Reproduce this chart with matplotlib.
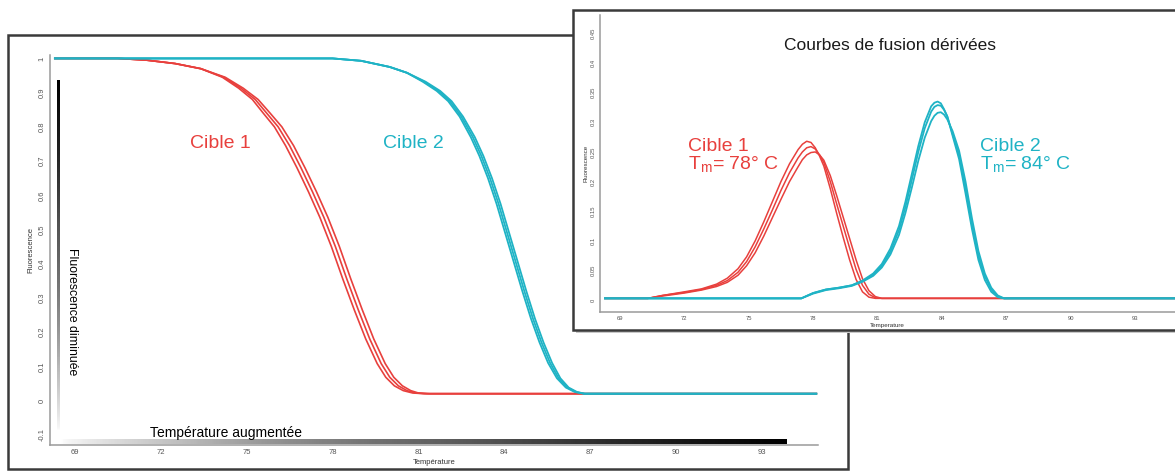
import matplotlib.pyplot as plt
import numpy as np
from matplotlib.patches import Rectangle

plt.rcParams['font.family'] = ['Liberation Sans', 'DejaVu Sans']

RED = '#e8403d'
CYAN = '#1fb3c5'
TICK_GREY = '#555555'

# ---- melting curves (fluorescence vs temperature), 3 replicates per target
melt_red_fluo = [1.0, 1.0, 0.995, 0.985, 0.97, 0.945, 0.913, 0.88, 0.84, 0.80,
                 0.745, 0.68, 0.61, 0.535, 0.45, 0.355, 0.265, 0.18, 0.108,
                 0.068, 0.043, 0.029, 0.022, 0.02, 0.02]
melt_red_temp = [
    [68.3, 70.5, 71.5, 72.5, 73.4, 74.15, 74.72, 75.2, 75.58, 75.97, 76.36, 76.76,
     77.16, 77.56, 77.96, 78.36, 78.76, 79.16, 79.56, 79.86, 80.16, 80.47, 80.8, 81.2, 94.9],
    [68.3, 70.5, 71.5, 72.5, 73.4, 74.2, 74.8, 75.3, 75.7, 76.1, 76.5, 76.9,
     77.3, 77.7, 78.1, 78.5, 78.9, 79.3, 79.7, 80.0, 80.3, 80.6, 80.9, 81.3, 94.9],
    [68.3, 70.5, 71.5, 72.5, 73.4, 74.25, 74.88, 75.4, 75.82, 76.23, 76.64, 77.04,
     77.44, 77.84, 78.24, 78.64, 79.04, 79.44, 79.84, 80.14, 80.44, 80.73, 81.0, 81.4, 94.9],
]

melt_cyan_fluo = [1.0, 1.0, 0.993, 0.975, 0.958, 0.932, 0.905, 0.875, 0.83, 0.77,
                  0.715, 0.65, 0.575, 0.49, 0.405, 0.32, 0.24, 0.17, 0.11, 0.065,
                  0.038, 0.025, 0.02, 0.02]
melt_cyan_temp = [
    [68.3, 78.0, 79.0, 80.0, 80.6, 81.15, 81.64, 82.04, 82.44, 82.83, 83.13, 83.43,
     83.73, 84.03, 84.33, 84.63, 84.93, 85.23, 85.53, 85.84, 86.15, 86.46, 86.78, 94.9],
    [68.3, 78.0, 79.0, 80.0, 80.6, 81.2, 81.7, 82.1, 82.5, 82.9, 83.2, 83.5,
     83.8, 84.1, 84.4, 84.7, 85.0, 85.3, 85.6, 85.9, 86.2, 86.5, 86.8, 94.9],
    [68.3, 78.0, 79.0, 80.0, 80.6, 81.25, 81.76, 82.16, 82.56, 82.97, 83.27, 83.57,
     83.87, 84.17, 84.47, 84.77, 85.07, 85.37, 85.67, 85.96, 86.25, 86.54, 86.82, 94.9],
]

melt_yticks = [-0.1, 0, 0.1, 0.2, 0.3, 0.4, 0.5, 0.6, 0.7, 0.8, 0.9, 1]
melt_ylabels = ['-0.1', '0', '0.1', '0.2', '0.3', '0.4', '0.5', '0.6', '0.7', '0.8', '0.9', '1']
temp_ticks = [69, 72, 75, 78, 81, 84, 87, 90, 93]

# ---- derivative curves (inset)
deriv_red_temp = [68.3, 70.3, 71.0, 72.0, 72.8, 73.5, 74.0, 74.5, 74.9, 75.3, 75.7,
                  76.1, 76.5, 76.9, 77.3, 77.5, 77.7, 77.9, 78.1, 78.3, 78.5, 78.8,
                  79.1, 79.4, 79.7, 80.0, 80.3, 80.6, 80.9, 81.2, 94.9]
deriv_red = [
    [0.003, 0.003, 0.008, 0.014, 0.019, 0.027, 0.037, 0.053, 0.073, 0.1, 0.132,
     0.166, 0.2, 0.23, 0.254, 0.263, 0.268, 0.266, 0.257, 0.243, 0.226, 0.188,
     0.146, 0.106, 0.068, 0.035, 0.014, 0.005, 0.003, 0.003, 0.003],
    [0.003, 0.003, 0.008, 0.013, 0.018, 0.025, 0.033, 0.047, 0.065, 0.09, 0.12,
     0.152, 0.185, 0.215, 0.24, 0.25, 0.257, 0.259, 0.255, 0.245, 0.232, 0.2,
     0.162, 0.125, 0.088, 0.052, 0.025, 0.01, 0.004, 0.003, 0.003],
    [0.003, 0.003, 0.007, 0.012, 0.017, 0.023, 0.03, 0.042, 0.058, 0.08, 0.108,
     0.139, 0.17, 0.2, 0.225, 0.237, 0.245, 0.249, 0.25, 0.245, 0.236, 0.21,
     0.176, 0.14, 0.104, 0.068, 0.036, 0.016, 0.006, 0.003, 0.003],
]

deriv_cyan_temp = [68.3, 77.45, 78.0, 78.6, 79.2, 79.8, 80.3, 80.8, 81.2, 81.6, 82.0,
                   82.3, 82.6, 82.9, 83.2, 83.5, 83.65, 83.8, 83.95, 84.1, 84.25, 84.5,
                   84.8, 85.1, 85.4, 85.7, 86.0, 86.3, 86.6, 86.9, 94.9]
deriv_cyan = [
    [0.003, 0.003, 0.012, 0.018, 0.021, 0.025, 0.033, 0.045, 0.061, 0.087, 0.125,
     0.166, 0.213, 0.26, 0.3, 0.327, 0.333, 0.335, 0.332, 0.322, 0.31, 0.277,
     0.238, 0.18, 0.12, 0.068, 0.034, 0.014, 0.005, 0.003, 0.003],
    [0.003, 0.003, 0.012, 0.018, 0.021, 0.025, 0.032, 0.043, 0.058, 0.082, 0.118,
     0.157, 0.203, 0.25, 0.29, 0.318, 0.326, 0.329, 0.328, 0.321, 0.31, 0.28,
     0.245, 0.19, 0.128, 0.075, 0.04, 0.018, 0.006, 0.003, 0.003],
    [0.003, 0.003, 0.011, 0.017, 0.02, 0.024, 0.031, 0.041, 0.055, 0.077, 0.11,
     0.147, 0.19, 0.235, 0.274, 0.302, 0.311, 0.316, 0.317, 0.313, 0.305, 0.285,
     0.252, 0.2, 0.138, 0.083, 0.045, 0.021, 0.008, 0.003, 0.003],
]

deriv_yticks = [0, 0.05, 0.1, 0.15, 0.2, 0.25, 0.3, 0.35, 0.4, 0.45]
deriv_ylabels = ['0', '0.05', '0.1', '0.15', '0.2', '0.25', '0.3', '0.35', '0.4', '0.45']


def style_axes(ax, size):
    for side in ['top', 'right']:
        ax.spines[side].set_visible(False)
    for side in ['left', 'bottom']:
        ax.spines[side].set_color('#9a9a9a')
        ax.spines[side].set_linewidth(1.1)
    ax.tick_params(length=0, labelsize=size, colors=TICK_GREY, pad=3)
    ax.tick_params(axis='y', labelrotation=90)
    for lab in ax.get_yticklabels():
        lab.set_va('center')


fig = plt.figure(figsize=(11.75, 4.72), dpi=100)

# ---------------- main panel
ax = fig.add_axes([50 / 1175, 27 / 472, 768 / 1175, 390 / 472])
for t in melt_red_temp:
    ax.plot(t, melt_red_fluo, color=RED, lw=1.2, zorder=3)
for t in melt_cyan_temp:
    ax.plot(t, melt_cyan_fluo, color=CYAN, lw=1.3, zorder=4)

# gradient arrows "temperature up" / "fluorescence down"
grad = np.linspace(0, 1, 256) ** 0.55
ax.imshow(grad[np.newaxis, :], extent=[68.48, 93.86, -0.126, -0.114],
          cmap='Greys', aspect='auto', vmin=0, vmax=1, zorder=2)
ax.imshow(grad[:, np.newaxis], extent=[68.36, 68.46, -0.09, 0.935],
          cmap='Greys', aspect='auto', origin='lower', vmin=0, vmax=1, zorder=2)

ax.set_xlim(68.13, 94.96)
ax.set_ylim(-0.13, 1.01)
ax.set_xticks(temp_ticks)
ax.set_yticks(melt_yticks)
ax.set_yticklabels(melt_ylabels)
style_axes(ax, 5.5)
ax.set_xlabel('Température', fontsize=5.5, color='#333333', labelpad=2)
ax.set_ylabel('Fluorescence', fontsize=5.5, color='#333333', labelpad=3)

ax.text(74.07, 0.75, 'Cible 1', color=RED, fontsize=14, ha='center', va='center')
ax.text(80.82, 0.75, 'Cible 2', color=CYAN, fontsize=14, ha='center', va='center')
ax.text(68.9, 0.26, 'Fluorescence diminuée', rotation=270, fontsize=8.8,
        ha='center', va='center')
ax.text(71.63, -0.094, 'Température augmentée', fontsize=10, ha='left', va='center')

# frame around main panel
fig.patches.append(Rectangle((8 / 1175, 3 / 472), 840 / 1175, 434 / 472,
                             transform=fig.transFigure, fill=False,
                             edgecolor='#3a3a3a', lw=1.8, zorder=1))

# ---------------- inset panel (derivative)
fig.patches.append(Rectangle((576 / 1175, 139 / 472), 620 / 1175, 320 / 472,
                             transform=fig.transFigure, facecolor='#c8c8c8',
                             edgecolor='none', zorder=1.8))
fig.patches.append(Rectangle((573 / 1175, 142 / 472), 620 / 1175, 320 / 472,
                             transform=fig.transFigure, facecolor='white',
                             edgecolor='#3a3a3a', lw=1.8, zorder=2))

ins = fig.add_axes([600 / 1175, 160 / 472, 575 / 1175, 297 / 472])
ins.set_zorder(3)
ins.patch.set_alpha(0)
for vals in deriv_red:
    ins.plot(deriv_red_temp, vals, color=RED, lw=1.1, zorder=3)
for vals in deriv_cyan:
    ins.plot(deriv_cyan_temp, vals, color=CYAN, lw=1.3, zorder=4)
ins.set_xlim(68.07, 94.86)
ins.set_ylim(-0.02, 0.481)
ins.set_xticks(temp_ticks)
ins.set_yticks(deriv_yticks)
ins.set_yticklabels(deriv_ylabels)
style_axes(ins, 4.2)
ins.set_xlabel('Temperature', fontsize=4.5, color='#333333', labelpad=1)
ins.set_ylabel('Fluorescence', fontsize=4.5, color='#333333', labelpad=2)

ins.text(81.58, 0.43, 'Courbes de fusion dérivées', fontsize=12.5, ha='center',
         va='center', color='#1a1a1a')
ins.text(72.17, 0.26, 'Cible 1', color=RED, fontsize=14, ha='left', va='center')
ins.text(72.17, 0.228, r'T$_{\mathregular{m}}$= 78° C', color=RED, fontsize=14,
         ha='left', va='center')
ins.text(85.78, 0.26, 'Cible 2', color=CYAN, fontsize=14, ha='left', va='center')
ins.text(85.78, 0.228, r'T$_{\mathregular{m}}$= 84° C', color=CYAN, fontsize=14,
         ha='left', va='center')

fig.savefig('out.png', dpi=100)
